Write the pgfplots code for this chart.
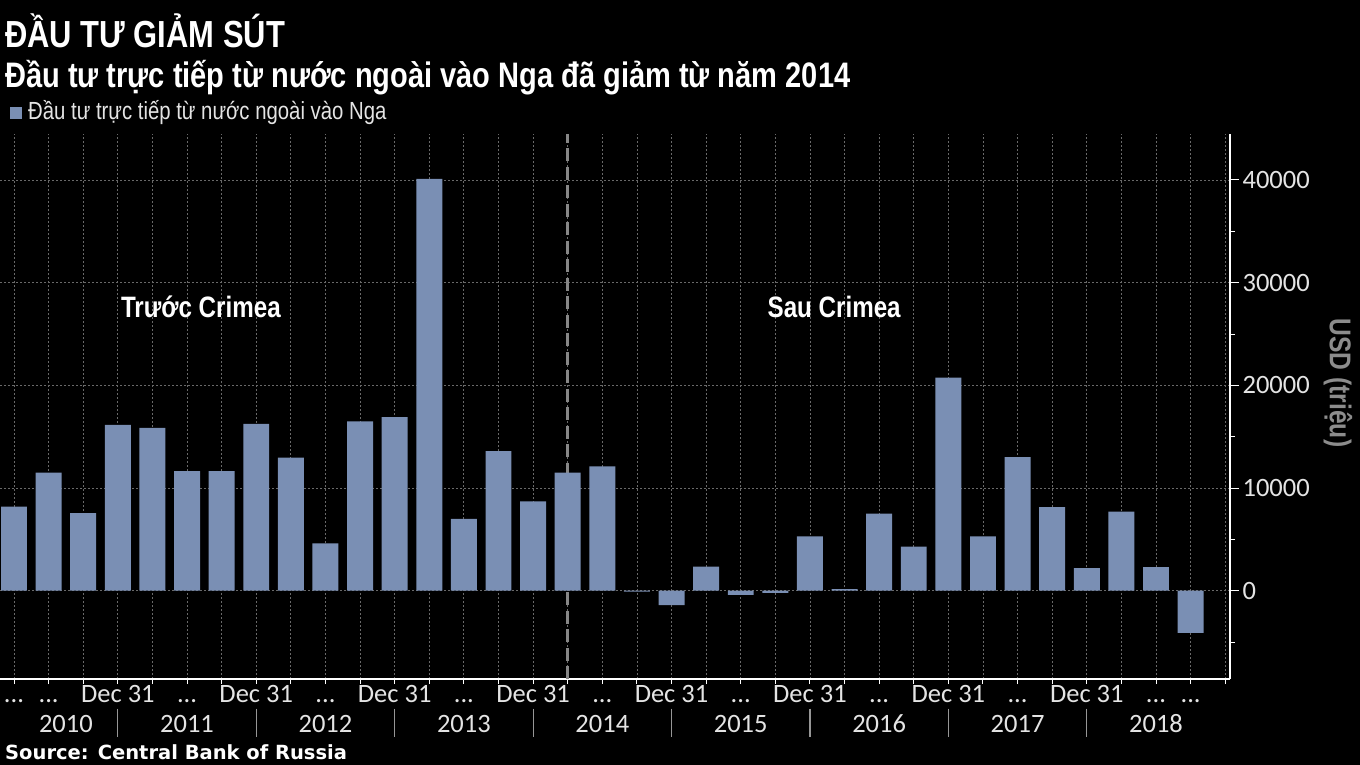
\documentclass[border=0pt]{standalone}
\usepackage{fontspec}
\usepackage{pgfplots}
\usepackage{pgfplotstable}
\pgfplotsset{compat=1.18}
\setmainfont{Liberation Sans}
\newfontfamily\cond[FakeStretch=0.82]{Liberation Sans}
\newfontfamily\tickfont{Carlito}
\newfontfamily\srcfont{DejaVu Sans}
\definecolor{barcol}{RGB}{122,143,180}
\definecolor{gridcol}{RGB}{105,105,105}
\definecolor{labcol}{RGB}{228,228,228}
\definecolor{crimea}{RGB}{135,135,135}
\definecolor{sepcol}{RGB}{150,150,150}
\definecolor{unitcol}{RGB}{140,140,140}
\newcommand\dd{...}

% Quarterly FDI into Russia, USD million, 2010 Q1 .. 2018 Q3
\pgfplotstableread{
q v
0 8200
1 11500
2 7550
3 16150
4 15850
5 11650
6 11650
7 16250
8 12950
9 4600
10 16500
11 16900
12 40100
13 7000
14 13600
15 8700
16 11500
17 12100
18 -100
19 -1400
20 2350
21 -400
22 -200
23 5300
24 150
25 7500
26 4300
27 20750
28 5300
29 13000
30 8150
31 2200
32 7700
33 2300
34 -4100
}\fdi

\begin{document}
\begin{tikzpicture}
\fill[black] (0,0) rectangle (1360bp,-765bp);
\useasboundingbox (0,0) rectangle (1360bp,-765bp);
\begin{axis}[
  at={(0bp,-679bp)}, anchor=south west,
  scale only axis, width=1230bp, height=545bp,
  xmin=-0.405, xmax=35.14, ymin=-8600, ymax=44480,
  axis x line*=bottom, axis y line*=right,
  axis line style={white, line width=1.2bp},
  clip=false,
  xtick={0,...,35},
  xticklabels={\dd,\dd,{},Dec 31,{},\dd,{},Dec 31,{},\dd,{},Dec 31,{},\dd,{},Dec 31,{},\dd,{},Dec 31,{},\dd,{},Dec 31,{},\dd,{},Dec 31,{},\dd,{},Dec 31,{},\dd,\dd,{}},
  ytick={0,10000,...,40000},
  minor ytick={-5000,5000,15000,25000,35000},
  scaled y ticks=false,
  xmajorgrids, ymajorgrids,
  major grid style={gridcol, dash pattern=on 2bp off 2bp, line width=0.8bp},
  tick align=outside,
  major tick length=9bp, minor tick length=5bp,
  xtick style={white, line width=1bp, /pgfplots/major tick length=5bp},
  ytick style={white, line width=1bp},
  xticklabel style={font=\tickfont\fontsize{26.5bp}{28bp}\selectfont, text=labcol, anchor=base, yshift=-14bp},
  yticklabel style={font=\tickfont\fontsize{26.5bp}{28bp}\selectfont, text=labcol, anchor=west},
  /pgf/number format/1000 sep={},
  /pgf/number format/assume math mode=true,
  ybar, bar width=0.75,
]
% 2014 marker: annexation of Crimea
\draw[crimea, line width=2.5bp, dash pattern=on 13bp off 5.5bp] (axis cs:16,-8600) -- (axis cs:16,44480);

\addplot[fill=barcol, draw=none] table[x=q, y=v] {\fdi};

% year bands under the quarter ticks
\pgfplotsinvokeforeach{3,7,...,31}{
  \draw[sepcol, line width=1.2bp] (axis cs:#1,-11480) -- (axis cs:#1,-14210);
}
\foreach \yr/\xp in {2010/1.5,2011/5,2012/9,2013/13,2014/17,2015/21,2016/25,2017/29,2018/33}{
  \edef\tmp{\noexpand\node[text=labcol, font=\noexpand\tickfont\noexpand\fontsize{26.5bp}{28bp}\noexpand\selectfont, anchor=base] at (axis cs:\xp,-13820) {\yr};}
  \tmp
}

\node[white, font=\cond\bfseries\fontsize{29.5bp}{31bp}\selectfont, anchor=base] at (axis cs:5.4,26655) {Trước Crimea};
\node[white, font=\cond\bfseries\fontsize{29.5bp}{31bp}\selectfont, anchor=base] at (axis cs:23.7,26655) {Sau Crimea};
\end{axis}

% headings, legend, unit and source
\node[white, font=\cond\bfseries\fontsize{37.7bp}{40bp}\selectfont, anchor=base west, inner sep=0pt] at (5bp,-47bp) {ĐẦU TƯ GIẢM SÚT};
\node[white, font=\cond\bfseries\fontsize{35.4bp}{37bp}\selectfont, anchor=base west, inner sep=0pt] at (5bp,-87bp) {Đầu tư trực tiếp từ nước ngoài vào Nga đã giảm từ năm 2014};
\fill[barcol] (10bp,-107bp) rectangle (22bp,-119bp);
\node[labcol, font=\cond\fontsize{24.8bp}{26bp}\selectfont, anchor=base west, inner sep=0pt] at (28bp,-119bp) {Đầu tư trực tiếp từ nước ngoài vào Nga};
\node[unitcol, font=\cond\bfseries\fontsize{30bp}{32bp}\selectfont, rotate=-90, inner sep=0pt] at (1338bp,-383bp) {USD (triệu)};
\node[white, font=\srcfont\bfseries\fontsize{19.5bp}{21bp}\selectfont, anchor=base west, inner sep=0pt] at (5bp,-759bp) {Source: Central Bank of Russia};
\end{tikzpicture}
\end{document}
